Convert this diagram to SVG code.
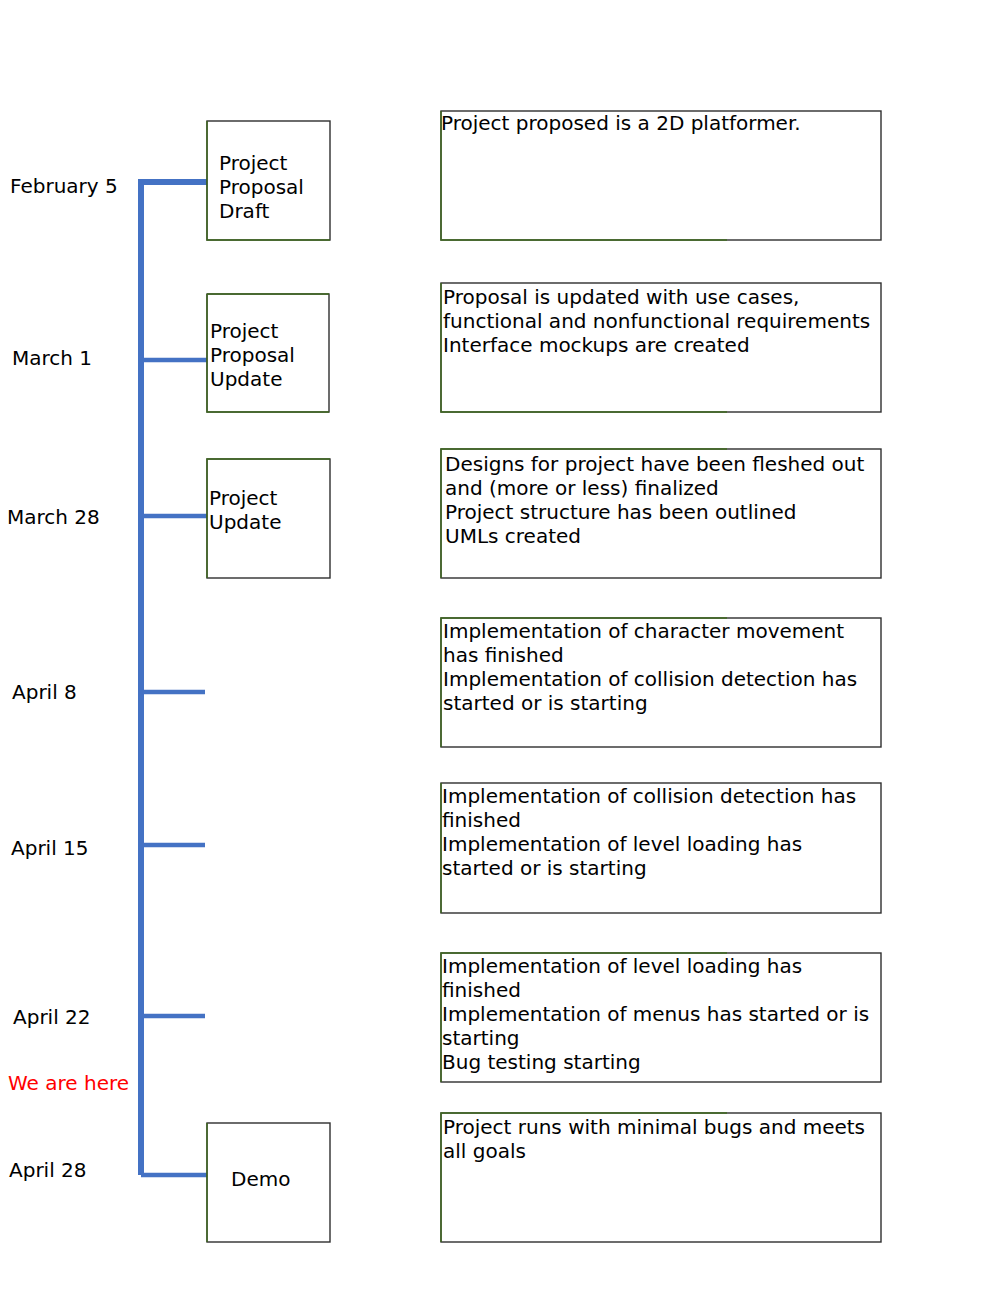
<svg xmlns="http://www.w3.org/2000/svg" width="1000" height="1291" viewBox="0 0 1000 1291">
<style>
text{font-family:"DejaVu Sans","Liberation Sans",sans-serif;font-size:20px;fill:#000}
.red{fill:#ff0000}
.box{fill:#fff;stroke:#2e2e2e;stroke-width:1.4}
.gl{stroke:#3f6a1f;stroke-width:1.4;fill:none}
.tl{stroke:#4472C4;fill:none}
</style>
<rect width="1000" height="1291" fill="#fff"/>
<g id="connectors">
<path class="tl" d="M141 1175 V182 H207" stroke-width="6"/>
<path class="tl" d="M141 360 H207 M141 516 H207 M141 692 H205 M141 845 H205 M141 1016 H205 M141 1175 H207" stroke-width="4.5"/>
</g>
<g id="dates">
<text x="10" y="193">February 5</text>
<text x="12" y="365">March 1</text>
<text x="7" y="524">March 28</text>
<text x="12" y="699">April 8</text>
<text x="11" y="855">April 15</text>
<text x="13" y="1024">April 22</text>
<text class="red" x="8" y="1090">We are here</text>
<text x="9" y="1177">April 28</text>
</g>
<g id="n1"><rect class="box" x="207" y="121" width="123" height="119"/><path class="gl" d="M207 121 V240 H330"/><text x="219" y="170">Project</text><text x="219" y="194">Proposal</text><text x="219" y="218">Draft</text></g>
<g id="n2"><rect class="box" x="207" y="294" width="122" height="118"/><path class="gl" d="M207 294 H329 M207 294 V412 H329"/><text x="210" y="338">Project</text><text x="210" y="362">Proposal</text><text x="210" y="386">Update</text></g>
<g id="n3"><rect class="box" x="207" y="459" width="123" height="119"/><path class="gl" d="M330 459 H207 V578"/><text x="209" y="505">Project</text><text x="209" y="529">Update</text></g>
<g id="n4"><rect class="box" x="207" y="1123" width="123" height="119"/><path class="gl" d="M207 1123 V1242"/><text x="231" y="1186">Demo</text></g>
<g id="d1"><rect class="box" x="441" y="111" width="440" height="129"/><path class="gl" d="M441 111 V240 H727"/><text x="441" y="130">Project proposed is a 2D platformer.</text></g>
<g id="d2"><rect class="box" x="441" y="283" width="440" height="129"/><path class="gl" d="M441 283 V412 H727"/><text x="443" y="304">Proposal is updated with use cases,</text><text x="443" y="328">functional and nonfunctional requirements</text><text x="443" y="352">Interface mockups are created</text></g>
<g id="d3"><rect class="box" x="441" y="449" width="440" height="129"/><path class="gl" d="M727 449 H441 V578"/><text x="445" y="471">Designs for project have been fleshed out</text><text x="445" y="495">and (more or less) finalized</text><text x="445" y="519">Project structure has been outlined</text><text x="445" y="543">UMLs created</text></g>
<g id="d4"><rect class="box" x="441" y="618" width="440" height="129"/><path class="gl" d="M727 618 H441 V747"/><text x="443" y="638">Implementation of character movement</text><text x="443" y="662">has finished</text><text x="443" y="686">Implementation of collision detection has</text><text x="443" y="710">started or is starting</text></g>
<g id="d5"><rect class="box" x="441" y="783" width="440" height="130"/><path class="gl" d="M441 783 V913"/><text x="442" y="803">Implementation of collision detection has</text><text x="442" y="827">finished</text><text x="442" y="851">Implementation of level loading has</text><text x="442" y="875">started or is starting</text></g>
<g id="d6"><rect class="box" x="441" y="953" width="440" height="129"/><path class="gl" d="M727 953 H441 V1082"/><text x="442" y="973">Implementation of level loading has</text><text x="442" y="997">finished</text><text x="442" y="1021">Implementation of menus has started or is</text><text x="442" y="1045">starting</text><text x="442" y="1069">Bug testing starting</text></g>
<g id="d7"><rect class="box" x="441" y="1113" width="440" height="129"/><path class="gl" d="M727 1113 H441 V1242"/><text x="443" y="1134">Project runs with minimal bugs and meets</text><text x="443" y="1158">all goals</text></g>
</svg>
